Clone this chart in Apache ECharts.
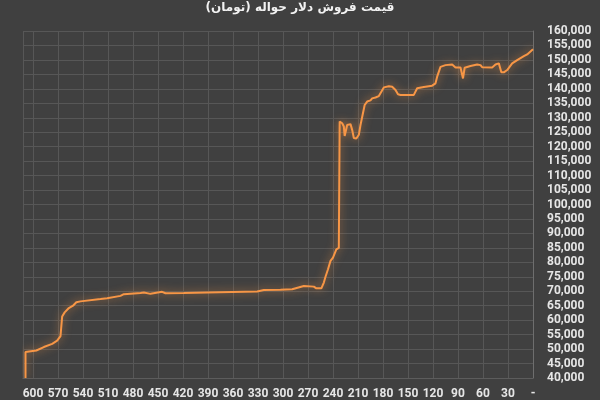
<!DOCTYPE html>
<html>
<head>
<meta charset="utf-8">
<script src="https://cdn.jsdelivr.net/npm/echarts@6/dist/echarts.min.js"></script>
<style>
  html, body { margin: 0; padding: 0; background: #404040; }
  #chart { width: 600px; height: 400px; }
</style>
</head>
<body>
<div id="chart"></div>
<script>
// days before today (x axis runs backwards) and sell price in toman
const days = [
  609, 609, 596, 587, 577, 571, 567, 565, 562, 557, 552, 548, 543, 519, 517, 511,
  495, 491, 471, 467, 459, 445, 441, 419, 391, 331, 323, 303, 301, 289, 287, 275,
  263, 260, 254, 251, 249, 246, 243, 240, 236, 233, 232, 229, 227, 226, 223, 219,
  217, 215, 212, 209, 207, 205, 202, 199, 195, 193, 189, 185, 183, 179, 173, 169,
  165, 162, 159, 143, 139, 131, 121, 117, 115, 111, 105, 97, 93, 87, 84, 82,
  75, 67, 63, 61, 49, 45, 41, 39, 38, 35, 31, 25, 19, 11, 7, 0
];
const prices = [
  40000, 49000, 49500, 50700, 51800, 52900, 54500, 61300, 62700, 64200, 65000, 66200, 66500, 67300, 66950, 67600,
  68400, 69000, 69400, 69600, 69100, 69800, 69300, 69400, 69600, 69950, 70400, 70500, 70700, 70700, 71300, 71800,
  71600, 71000, 71000, 73000, 75000, 77600, 80500, 81600, 84500, 85000, 128700, 128100, 127000, 123700, 127500, 127800,
  125800, 123000, 122800, 124100, 127500, 128100, 134400, 135600, 136000, 136700, 137000, 137500, 137900, 140500, 140900, 140700,
  139600, 138100, 137900, 137900, 140200, 140600, 141100, 141900, 144200, 147600, 148200, 148400, 147400, 147400, 143600, 147300,
  147900, 148400, 148200, 147500, 147400, 148400, 148800, 148200, 145700, 145700, 146500, 148800, 149900, 151300, 151900, 153700
];
const titleText = 'قیمت فروش دلار حواله (تومان)';

const seriesData = days.map((d, i) => [d, prices[i]]);
const labelFont = 'Roboto, "Noto Sans", sans-serif';

const chart = echarts.init(document.getElementById('chart'), null, { renderer: 'canvas' });
chart.setOption({
  backgroundColor: '#404040',
  animation: false,
  title: {
    text: titleText,
    left: 300,
    textAlign: 'center',
    top: 2,
    padding: 0,
    textStyle: {
      color: '#f2f2f2',
      fontSize: 12,
      fontWeight: 'bold',
      fontFamily: '"DejaVu Sans", sans-serif'
    }
  },
  grid: { left: 23, right: 67, top: 31, bottom: 21 },
  xAxis: {
    type: 'value',
    inverse: true,
    min: 0,
    max: 612,
    interval: 30,
    axisLine: { show: true, lineStyle: { color: '#5c5c5c', width: 1 } },
    axisTick: { show: false },
    splitLine: { show: true, lineStyle: { color: '#575757', width: 1 } },
    axisLabel: {
      color: '#e6e6e6',
      fontSize: 12,
      fontWeight: 'bold',
      fontFamily: labelFont,
      margin: 10,
      showMaxLabel: false,
      formatter: v => (v === 0 ? '-' : String(v))
    }
  },
  yAxis: {
    type: 'value',
    position: 'right',
    min: 40000,
    max: 160000,
    interval: 5000,
    axisLine: { show: true, lineStyle: { color: '#6e6e6e', width: 1 } },
    axisTick: { show: false },
    splitLine: { show: true, lineStyle: { color: '#575757', width: 1 } },
    axisLabel: {
      color: '#e6e6e6',
      fontSize: 12,
      fontWeight: 'bold',
      fontFamily: labelFont,
      margin: 14,
      formatter: v => v.toLocaleString('en-US')
    }
  },
  series: [{
    type: 'line',
    data: seriesData,
    showSymbol: false,
    smooth: false,
    lineStyle: {
      color: '#f79646',
      width: 2,
      shadowColor: 'rgba(247,150,70,0.75)',
      shadowBlur: 8
    }
  }]
});
</script>
</body>
</html>
